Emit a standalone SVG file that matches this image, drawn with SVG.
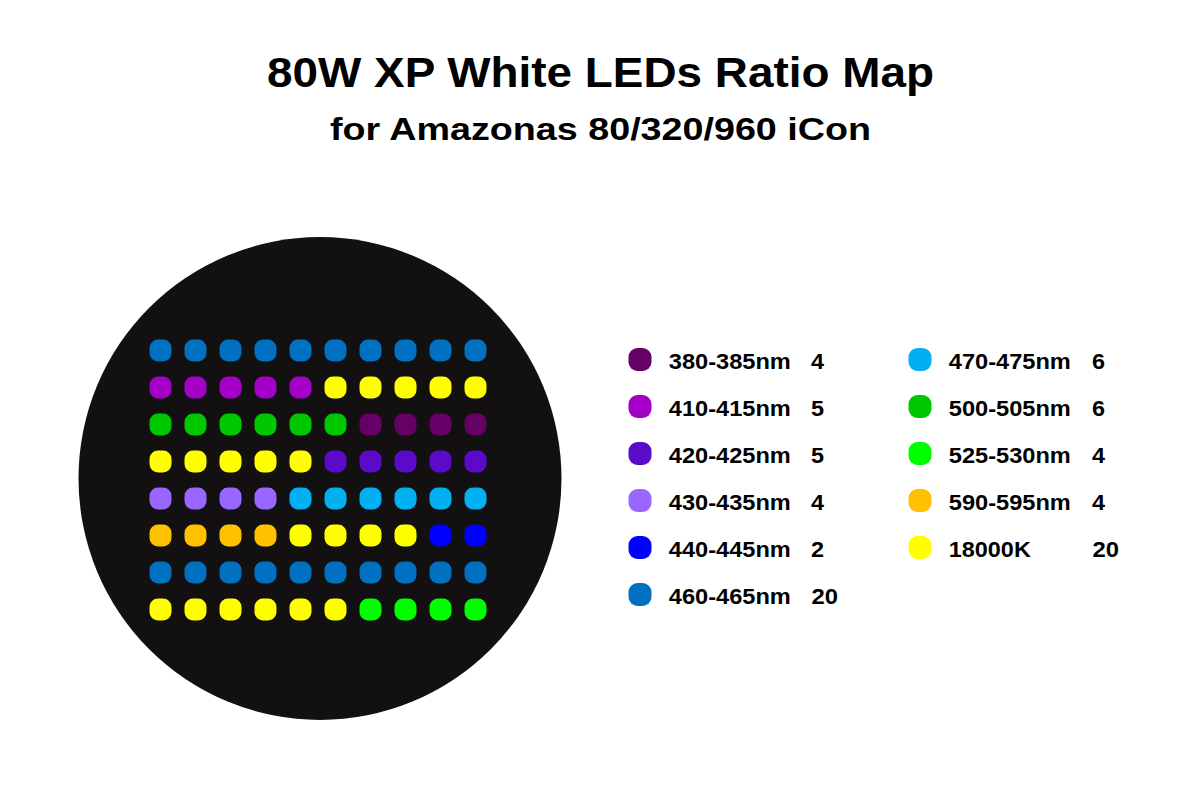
<svg xmlns="http://www.w3.org/2000/svg" width="1200" height="800" viewBox="0 0 1200 800">
<style>
text{font-family:"Liberation Sans",Arial,sans-serif;font-weight:bold;fill:#000}
.t{font-size:43px}
.s{font-size:31px}
.l{font-size:22.5px}
.c380{fill:#660066}.c410{fill:#A400C8}.c420{fill:#5A0AC8}.c430{fill:#9966FF}.c440{fill:#0000FF}.c460{fill:#0070C0}.c470{fill:#00B0F0}.c500{fill:#00C800}.c525{fill:#00FF00}.c590{fill:#FFC000}.cw{fill:#FFFF00}
</style>
<defs>
<rect id="led" x="-11" y="-11" width="22" height="22" rx="8.5"/>
<rect id="ld" x="-11.5" y="-11.5" width="23" height="23" rx="9"/>
</defs>
<rect width="1200" height="800" fill="#fff"/>
<g id="title">
<text class="t" x="600.5" y="86.5" text-anchor="middle" textLength="667" lengthAdjust="spacingAndGlyphs">80W XP White LEDs Ratio Map</text>
<text class="s" x="600.5" y="139.5" text-anchor="middle" textLength="541" lengthAdjust="spacingAndGlyphs">for Amazonas 80/320/960 iCon</text>
</g>
<g id="board">
<circle cx="320" cy="478.5" r="241.5" fill="#121011"/>
<g id="row1" class="c460">
<use href="#led" x="160.5" y="350.5"/><use href="#led" x="195.5" y="350.5"/><use href="#led" x="230.5" y="350.5"/><use href="#led" x="265.5" y="350.5"/><use href="#led" x="300.5" y="350.5"/><use href="#led" x="335.5" y="350.5"/><use href="#led" x="370.5" y="350.5"/><use href="#led" x="405.5" y="350.5"/><use href="#led" x="440.5" y="350.5"/><use href="#led" x="475.5" y="350.5"/>
</g>
<g id="row2">
<g class="c410"><use href="#led" x="160.5" y="387.5"/><use href="#led" x="195.5" y="387.5"/><use href="#led" x="230.5" y="387.5"/><use href="#led" x="265.5" y="387.5"/><use href="#led" x="300.5" y="387.5"/></g>
<g class="cw"><use href="#led" x="335.5" y="387.5"/><use href="#led" x="370.5" y="387.5"/><use href="#led" x="405.5" y="387.5"/><use href="#led" x="440.5" y="387.5"/><use href="#led" x="475.5" y="387.5"/></g>
</g>
<g id="row3">
<g class="c500"><use href="#led" x="160.5" y="424.5"/><use href="#led" x="195.5" y="424.5"/><use href="#led" x="230.5" y="424.5"/><use href="#led" x="265.5" y="424.5"/><use href="#led" x="300.5" y="424.5"/><use href="#led" x="335.5" y="424.5"/></g>
<g class="c380"><use href="#led" x="370.5" y="424.5"/><use href="#led" x="405.5" y="424.5"/><use href="#led" x="440.5" y="424.5"/><use href="#led" x="475.5" y="424.5"/></g>
</g>
<g id="row4">
<g class="cw"><use href="#led" x="160.5" y="461.5"/><use href="#led" x="195.5" y="461.5"/><use href="#led" x="230.5" y="461.5"/><use href="#led" x="265.5" y="461.5"/><use href="#led" x="300.5" y="461.5"/></g>
<g class="c420"><use href="#led" x="335.5" y="461.5"/><use href="#led" x="370.5" y="461.5"/><use href="#led" x="405.5" y="461.5"/><use href="#led" x="440.5" y="461.5"/><use href="#led" x="475.5" y="461.5"/></g>
</g>
<g id="row5">
<g class="c430"><use href="#led" x="160.5" y="498.5"/><use href="#led" x="195.5" y="498.5"/><use href="#led" x="230.5" y="498.5"/><use href="#led" x="265.5" y="498.5"/></g>
<g class="c470"><use href="#led" x="300.5" y="498.5"/><use href="#led" x="335.5" y="498.5"/><use href="#led" x="370.5" y="498.5"/><use href="#led" x="405.5" y="498.5"/><use href="#led" x="440.5" y="498.5"/><use href="#led" x="475.5" y="498.5"/></g>
</g>
<g id="row6">
<g class="c590"><use href="#led" x="160.5" y="535.5"/><use href="#led" x="195.5" y="535.5"/><use href="#led" x="230.5" y="535.5"/><use href="#led" x="265.5" y="535.5"/></g>
<g class="cw"><use href="#led" x="300.5" y="535.5"/><use href="#led" x="335.5" y="535.5"/><use href="#led" x="370.5" y="535.5"/><use href="#led" x="405.5" y="535.5"/></g>
<g class="c440"><use href="#led" x="440.5" y="535.5"/><use href="#led" x="475.5" y="535.5"/></g>
</g>
<g id="row7" class="c460">
<use href="#led" x="160.5" y="572.5"/><use href="#led" x="195.5" y="572.5"/><use href="#led" x="230.5" y="572.5"/><use href="#led" x="265.5" y="572.5"/><use href="#led" x="300.5" y="572.5"/><use href="#led" x="335.5" y="572.5"/><use href="#led" x="370.5" y="572.5"/><use href="#led" x="405.5" y="572.5"/><use href="#led" x="440.5" y="572.5"/><use href="#led" x="475.5" y="572.5"/>
</g>
<g id="row8">
<g class="cw"><use href="#led" x="160.5" y="609.5"/><use href="#led" x="195.5" y="609.5"/><use href="#led" x="230.5" y="609.5"/><use href="#led" x="265.5" y="609.5"/><use href="#led" x="300.5" y="609.5"/><use href="#led" x="335.5" y="609.5"/></g>
<g class="c525"><use href="#led" x="370.5" y="609.5"/><use href="#led" x="405.5" y="609.5"/><use href="#led" x="440.5" y="609.5"/><use href="#led" x="475.5" y="609.5"/></g>
</g>
</g>
<g id="legend">
<g id="lg380"><use href="#ld" class="c380" x="640" y="359.5"/><text class="l" x="668.8" y="368.5" textLength="122" lengthAdjust="spacingAndGlyphs">380-385nm</text><text class="l" x="811" y="368.5" textLength="13" lengthAdjust="spacingAndGlyphs">4</text></g>
<g id="lg410"><use href="#ld" class="c410" x="640" y="406.5"/><text class="l" x="668.8" y="415.5" textLength="122" lengthAdjust="spacingAndGlyphs">410-415nm</text><text class="l" x="811" y="415.5" textLength="13" lengthAdjust="spacingAndGlyphs">5</text></g>
<g id="lg420"><use href="#ld" class="c420" x="640" y="453.5"/><text class="l" x="668.8" y="462.5" textLength="122" lengthAdjust="spacingAndGlyphs">420-425nm</text><text class="l" x="811" y="462.5" textLength="13" lengthAdjust="spacingAndGlyphs">5</text></g>
<g id="lg430"><use href="#ld" class="c430" x="640" y="500.5"/><text class="l" x="668.8" y="509.5" textLength="122" lengthAdjust="spacingAndGlyphs">430-435nm</text><text class="l" x="811" y="509.5" textLength="13" lengthAdjust="spacingAndGlyphs">4</text></g>
<g id="lg440"><use href="#ld" class="c440" x="640" y="547.5"/><text class="l" x="668.8" y="556.5" textLength="122" lengthAdjust="spacingAndGlyphs">440-445nm</text><text class="l" x="811" y="556.5" textLength="13" lengthAdjust="spacingAndGlyphs">2</text></g>
<g id="lg460"><use href="#ld" class="c460" x="640" y="594.5"/><text class="l" x="668.8" y="603.5" textLength="122" lengthAdjust="spacingAndGlyphs">460-465nm</text><text class="l" x="811.5" y="603.5" textLength="26.5" lengthAdjust="spacingAndGlyphs">20</text></g>
<g id="lg470"><use href="#ld" class="c470" x="920" y="359.5"/><text class="l" x="948.8" y="368.5" textLength="122" lengthAdjust="spacingAndGlyphs">470-475nm</text><text class="l" x="1092" y="368.5" textLength="13" lengthAdjust="spacingAndGlyphs">6</text></g>
<g id="lg500"><use href="#ld" class="c500" x="920" y="406.5"/><text class="l" x="948.8" y="415.5" textLength="122" lengthAdjust="spacingAndGlyphs">500-505nm</text><text class="l" x="1092" y="415.5" textLength="13" lengthAdjust="spacingAndGlyphs">6</text></g>
<g id="lg525"><use href="#ld" class="c525" x="920" y="453.5"/><text class="l" x="948.8" y="462.5" textLength="122" lengthAdjust="spacingAndGlyphs">525-530nm</text><text class="l" x="1092" y="462.5" textLength="13" lengthAdjust="spacingAndGlyphs">4</text></g>
<g id="lg590"><use href="#ld" class="c590" x="920" y="500.5"/><text class="l" x="948.8" y="509.5" textLength="122" lengthAdjust="spacingAndGlyphs">590-595nm</text><text class="l" x="1092" y="509.5" textLength="13" lengthAdjust="spacingAndGlyphs">4</text></g>
<g id="lg18000"><use href="#ld" class="cw" x="920" y="547.5"/><text class="l" x="948.8" y="556.5" textLength="82" lengthAdjust="spacingAndGlyphs">18000K</text><text class="l" x="1092.5" y="556.5" textLength="26.5" lengthAdjust="spacingAndGlyphs">20</text></g>
</g>
</svg>
